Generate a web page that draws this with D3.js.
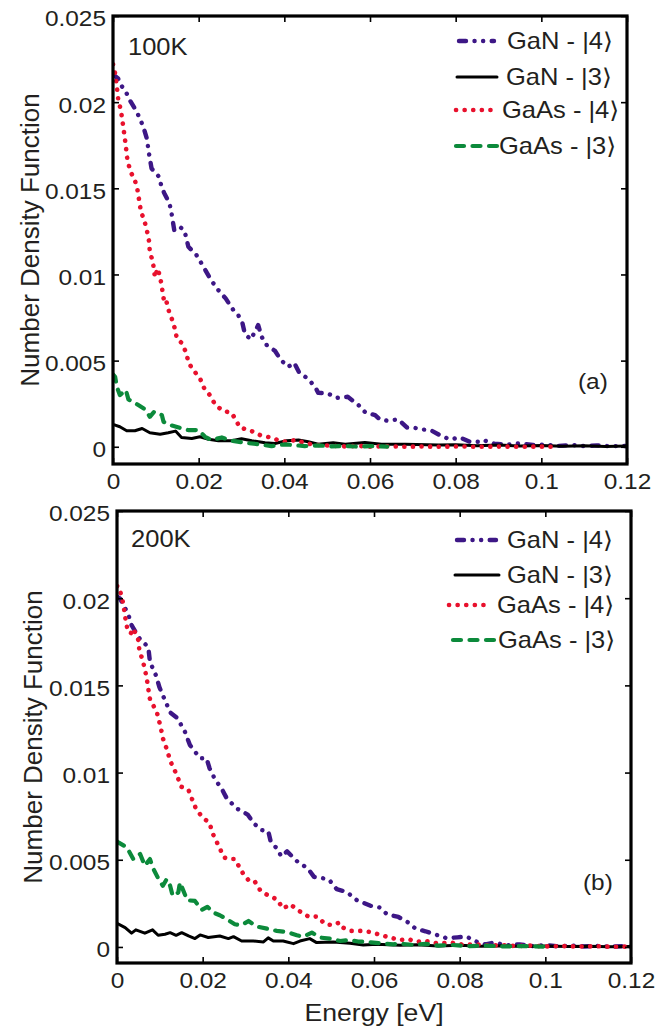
<!DOCTYPE html>
<html>
<head>
<meta charset="utf-8">
<script src="https://cdn.jsdelivr.net/npm/d3@7"></script>
<style>
  body { margin: 0; background: #fff; }
  text { font-family: "Liberation Sans", Arial, "DejaVu Sans", sans-serif; fill: #231f20; }
</style>
</head>
<body>
<svg id="fig" width="663" height="1026"></svg>
<script>
// ---- Number density vs. energy, [energy (eV), density] pairs ----

// 100 K
const gan4_100K = [[0,0.0216],[0.0012,0.02137],[0.0016,0.02108],[0.003,0.0206],[0.004,0.02008],[0.0053,0.01954],[0.0063,0.01905],[0.0072,0.01847],[0.0079,0.01789],[0.0084,0.01702],[0.009,0.01615],[0.0106,0.01571],[0.0115,0.01499],[0.012,0.0147],[0.0132,0.01412],[0.0137,0.0135],[0.0143,0.01257],[0.0156,0.01277],[0.0167,0.01253],[0.0176,0.01161],[0.0195,0.01112],[0.0209,0.01054],[0.0229,0.00967],[0.0246,0.00909],[0.0263,0.00861],[0.0281,0.00793],[0.0291,0.0077],[0.0302,0.0072],[0.0308,0.00654],[0.0322,0.00623],[0.0339,0.00706],[0.0347,0.00638],[0.0359,0.0059],[0.0378,0.00557],[0.0392,0.00503],[0.0409,0.00464],[0.0423,0.00487],[0.0435,0.00429],[0.0454,0.00397],[0.0472,0.00348],[0.0479,0.00313],[0.0501,0.0031],[0.0522,0.00284],[0.0548,0.0029],[0.0573,0.00242],[0.059,0.00197],[0.0612,0.00184],[0.0623,0.00159],[0.0641,0.00151],[0.0666,0.00159],[0.0686,0.00112],[0.0699,0.00112],[0.0722,0.00101],[0.0744,0.00093],[0.0767,0.00062],[0.0787,0.00043],[0.081,0.00054],[0.0833,0.00029],[0.0857,0.00029],[0.0864,0.00039],[0.089,0.00018],[0.092,0.00012],[0.095,0.0002],[0.098,0.0001],[0.101,0.00012],[0.104,0.00005],[0.107,0.0001],[0.11,0.00004],[0.113,0.00008],[0.116,0.00003],[0.119,0.00005],[0.12,0.00003]];
const gan3_100K = [[0,0.00128],[0.0005,0.00126],[0.0016,0.00116],[0.0032,0.00093],[0.0051,0.00093],[0.0068,0.00106],[0.0086,0.00081],[0.011,0.00073],[0.0129,0.00081],[0.0146,0.00091],[0.016,0.00054],[0.0184,0.00048],[0.0203,0.00058],[0.0223,0.00043],[0.0246,0.00035],[0.0277,0.00035],[0.03,0.00046],[0.0324,0.00035],[0.0355,0.00023],[0.0378,0.00019],[0.0405,0.00035],[0.0433,0.00039],[0.0456,0.00029],[0.0479,0.00015],[0.0514,0.00023],[0.0542,0.00015],[0.0588,0.00025],[0.0627,0.00015],[0.0682,0.00015],[0.076,0.0001],[0.08,0.00012],[0.085,0.00006],[0.09,0.0001],[0.095,0.00004],[0.1,0.00008],[0.105,0.00003],[0.11,0.00006],[0.115,0.00002],[0.12,0.00004]];
const gaas4_100K = [[0,0.0222],[0.0003,0.02195],[0.0006,0.02147],[0.0009,0.02089],[0.0012,0.02021],[0.0019,0.01944],[0.0024,0.01857],[0.0028,0.01783],[0.0031,0.01721],[0.0034,0.01658],[0.0042,0.0159],[0.005,0.01557],[0.0057,0.01493],[0.0065,0.01369],[0.0075,0.01296],[0.0079,0.01257],[0.0084,0.01195],[0.0086,0.01131],[0.0093,0.01074],[0.0098,0.00983],[0.0104,0.01035],[0.011,0.00986],[0.0114,0.00928],[0.012,0.00832],[0.0125,0.00841],[0.0131,0.00783],[0.0137,0.00745],[0.0145,0.00681],[0.0149,0.00629],[0.016,0.00603],[0.017,0.00551],[0.0177,0.00484],[0.0188,0.00445],[0.0204,0.00391],[0.0213,0.00339],[0.0226,0.003],[0.0232,0.00271],[0.0242,0.00236],[0.0258,0.00207],[0.0277,0.00197],[0.0289,0.00145],[0.0296,0.00112],[0.0322,0.00093],[0.0343,0.00068],[0.0367,0.00054],[0.039,0.00035],[0.0405,0.00029],[0.0425,0.00039],[0.0452,0.00019],[0.0479,0.0001],[0.051,0.00006],[0.054,0.00002],[0.057,0.00005],[0.06,0.00001],[0.064,0.00003],[0.068,0],[0.072,0.00002],[0.076,0],[0.08,0.00002],[0.085,0],[0.09,0.00001],[0.095,0],[0.1,0.00001],[0.103,0]];
const gaas3_100K = [[0,0.0042],[0.0005,0.00406],[0.0009,0.00348],[0.0016,0.003],[0.003,0.00329],[0.0036,0.00275],[0.0047,0.00261],[0.0059,0.00242],[0.0075,0.00217],[0.0086,0.00174],[0.0096,0.00203],[0.0114,0.00184],[0.0118,0.00145],[0.0133,0.00126],[0.0156,0.0011],[0.0176,0.00097],[0.0199,0.00097],[0.0215,0.00058],[0.023,0.00039],[0.0254,0.00054],[0.0277,0.00035],[0.0308,0.00023],[0.0339,0.00015],[0.037,0.00004],[0.0402,0.00014],[0.0448,0.00004],[0.048,0.00008],[0.051,0.00002],[0.054,0.00005],[0.057,0.00001],[0.06,0.00004],[0.064,0.00001]];

// 200 K
const gan4_200K = [[0,0.0201],[0.0007,0.01998],[0.0026,0.0191],[0.0034,0.01845],[0.0054,0.01764],[0.0073,0.0172],[0.0077,0.01634],[0.0091,0.01557],[0.0099,0.0149],[0.0112,0.01414],[0.0125,0.01343],[0.0141,0.01312],[0.0159,0.01232],[0.017,0.01159],[0.0194,0.01082],[0.0209,0.01082],[0.0216,0.01025],[0.0229,0.0096],[0.0244,0.0091],[0.0256,0.00853],[0.0279,0.00795],[0.0305,0.00759],[0.032,0.00707],[0.0338,0.0067],[0.0353,0.00665],[0.0359,0.00603],[0.0371,0.00571],[0.0384,0.00519],[0.0397,0.00548],[0.0423,0.00485],[0.0445,0.00452],[0.046,0.00402],[0.0483,0.00393],[0.0496,0.00383],[0.0513,0.00331],[0.0536,0.00316],[0.056,0.00268],[0.0592,0.00236],[0.0614,0.00226],[0.063,0.00188],[0.0657,0.00172],[0.068,0.0014],[0.0697,0.00105],[0.072,0.0009],[0.0745,0.0007],[0.077,0.0005],[0.0795,0.00055],[0.0815,0.0006],[0.084,0.0003],[0.086,0.00015],[0.088,0.00025],[0.091,0.0001],[0.094,0.00015],[0.097,0.00005],[0.1,0.0001],[0.103,0.00004],[0.106,0.00008],[0.109,0.00003],[0.112,0.00006],[0.115,0.00002],[0.118,0.00004],[0.12,0.00002]];
const gan3_200K = [[0,0.00136],[0.0019,0.00111],[0.0034,0.00079],[0.0044,0.00098],[0.0065,0.00079],[0.0083,0.00098],[0.0096,0.00067],[0.0112,0.00073],[0.0124,0.00082],[0.0138,0.00067],[0.0151,0.00082],[0.0167,0.00063],[0.0182,0.00048],[0.0194,0.00069],[0.0213,0.00054],[0.024,0.00063],[0.026,0.00048],[0.0272,0.00059],[0.0291,0.00034],[0.0318,0.00034],[0.0342,0.00029],[0.0353,0.00052],[0.0365,0.00034],[0.0388,0.00034],[0.0412,0.00019],[0.0427,0.00034],[0.045,0.00048],[0.0466,0.00025],[0.0505,0.00029],[0.0544,0.00021],[0.0575,0.00011],[0.0606,0.00015],[0.0661,0.0001],[0.07,0.00012],[0.075,0.00006],[0.08,0.0001],[0.085,0.00004],[0.09,0.00007],[0.095,0.00003],[0.1,0.00005],[0.105,0.00002],[0.11,0.00004],[0.115,0.00001],[0.12,0.00003]];
const gaas4_200K = [[0,0.0207],[0.0005,0.02065],[0.0015,0.01964],[0.0019,0.01893],[0.0024,0.01826],[0.0032,0.01797],[0.0038,0.01826],[0.005,0.01759],[0.0052,0.01705],[0.0061,0.01634],[0.0069,0.01548],[0.0073,0.01481],[0.0077,0.0142],[0.0093,0.01347],[0.0102,0.0126],[0.0107,0.01197],[0.0116,0.01136],[0.0125,0.01063],[0.0141,0.00979],[0.0149,0.0092],[0.0167,0.009],[0.0178,0.0083],[0.0184,0.00795],[0.0198,0.00747],[0.0216,0.00711],[0.0223,0.00653],[0.024,0.00565],[0.025,0.00513],[0.0262,0.00504],[0.0275,0.00504],[0.0295,0.00418],[0.031,0.00374],[0.0322,0.00374],[0.0335,0.00322],[0.0357,0.00289],[0.0373,0.00274],[0.0388,0.0022],[0.0404,0.00245],[0.0425,0.00207],[0.0447,0.00174],[0.0468,0.00174],[0.0486,0.0013],[0.0505,0.00125],[0.0519,0.0014],[0.0527,0.00111],[0.0546,0.00092],[0.0569,0.00092],[0.0591,0.00086],[0.0618,0.00067],[0.0637,0.00054],[0.0661,0.0004],[0.068,0.00045],[0.07,0.0003],[0.072,0.00035],[0.075,0.0002],[0.078,0.00025],[0.081,0.00012],[0.084,0.00015],[0.087,0.00008],[0.09,0.0001],[0.093,0.00005],[0.096,0.00008],[0.1,0.00003],[0.104,0.00005],[0.108,0.00002],[0.112,0.00004],[0.116,0.00001],[0.12,0.00002]];
const gaas3_200K = [[0,0.00605],[0.0003,0.006],[0.0023,0.00571],[0.0038,0.00504],[0.0054,0.00533],[0.0065,0.00466],[0.0077,0.00504],[0.0085,0.00447],[0.0099,0.0038],[0.0107,0.00351],[0.0116,0.00389],[0.0124,0.00351],[0.013,0.00293],[0.0143,0.00312],[0.0147,0.0037],[0.0164,0.00268],[0.0182,0.00264],[0.0198,0.00213],[0.0211,0.0023],[0.0225,0.00197],[0.024,0.00182],[0.0256,0.00159],[0.0275,0.0013],[0.0291,0.00125],[0.0307,0.00149],[0.0326,0.00117],[0.035,0.00105],[0.0373,0.00092],[0.0396,0.00086],[0.042,0.00067],[0.0435,0.00059],[0.0455,0.00082],[0.0474,0.00054],[0.0497,0.00048],[0.0521,0.00034],[0.054,0.0004],[0.0563,0.00031],[0.0583,0.00029],[0.0614,0.00021],[0.0645,0.00015],[0.0661,0.00019],[0.069,0.00012],[0.072,0.00018],[0.075,0.00008],[0.078,0.00012],[0.082,0.00005],[0.086,0.00008],[0.09,0.00003],[0.095,0.00005],[0.1,0.00002]];

// axis ticks
const energyTicks = [0, 0.02, 0.04, 0.06, 0.08, 0.1, 0.12];
const energyTickLabels = ["0", "0.02", "0.04", "0.06", "0.08", "0.1", "0.12"];
const densityTicks = [0, 0.005, 0.01, 0.015, 0.02, 0.025];
const densityTickLabels = ["0", "0.005", "0.01", "0.015", "0.02", "0.025"];

// legend entries (drawing order)
const seriesNames = ["GaN - |4\u27E9", "GaN - |3\u27E9", "GaAs - |4\u27E9", "GaAs - |3\u27E9"];
const temperatures = ["100K", "200K"];
const panelTags = ["(a)", "(b)"];

// ---- styling ----
const styles = [
  { color: "#3d1786", dash: "7,8.5,0.1,8.5,0.1,8.5", width: 4.4 },
  { color: "#000000", dash: null, width: 3.0 },
  { color: "#e8112d", dash: "0.1,8.5", width: 4.6 },
  { color: "#0c8a3b", dash: "8,8.5", width: 4.2 }
];
const SX = 1.11; // glyph width stretch of the printed figure

const svg = d3.select("#fig");

function stretch(sel) {
  sel.each(function () {
    const t = d3.select(this);
    const x = +t.attr("x") || 0;
    t.attr("transform", `translate(${x},0) scale(${SX},1) translate(${-x},0)`);
  });
}

const panels = [
  { data: [gan4_100K, gan3_100K, gaas4_100K, gaas3_100K],
    left: 113, right: 627, top: 16, bottom: 464, yMin: -0.001,
    legend: { rows: [41, 77, 110, 146], lines: [[459, 494], [457, 497], [456, 499], [456, 499]], text: [507, 506, 502, 499] },
    tempPos: [128, 55], tagPos: [578, 389], yLabelX: 30 },
  { data: [gan4_200K, gan3_200K, gaas4_200K, gaas3_200K],
    left: 117, right: 631, top: 511, bottom: 963, yMin: -0.00092,
    legend: { rows: [540, 575, 605, 640], lines: [[457, 496], [455, 499], [449, 492], [453, 494]], text: [507, 507, 497, 498] },
    tempPos: [131, 547], tagPos: [583, 890], yLabelX: 33 }
];

panels.forEach((p, pi) => {
  const x = d3.scaleLinear().domain([0, 0.12]).range([p.left, p.right]);
  const y = d3.scaleLinear().domain([p.yMin, 0.025]).range([p.bottom, p.top]);
  const g = svg.append("g");

  const clipId = "clip" + pi;
  g.append("clipPath").attr("id", clipId)
    .append("rect").attr("x", p.left).attr("y", p.top)
    .attr("width", p.right - p.left).attr("height", p.bottom - p.top);

  // curves
  const line = d3.line().x(d => x(d[0])).y(d => y(d[1]));
  const curves = g.append("g").attr("clip-path", `url(#${clipId})`);
  p.data.forEach((series, si) => {
    const s = styles[si];
    curves.append("path").datum(series)
      .attr("d", line)
      .attr("fill", "none")
      .attr("stroke", s.color)
      .attr("stroke-width", s.width)
      .attr("stroke-linecap", "round")
      .attr("stroke-linejoin", "round")
      .attr("stroke-dasharray", s.dash);
  });

  // axes: ticks point inward on all four sides
  const axisStyle = a => {
    a.select(".domain").remove();
    a.selectAll(".tick line").attr("stroke", "#000").attr("stroke-width", 1.6);
    a.selectAll("text").style("font-size", "22px").attr("fill", "#231f20");
  };
  const xb = g.append("g").attr("transform", `translate(0,${p.bottom})`)
    .call(d3.axisBottom(x).tickValues(energyTicks)
      .tickFormat((d, i) => energyTickLabels[i]).tickSize(-6).tickPadding(9));
  axisStyle(xb);
  stretch(xb.selectAll("text"));
  const xt = g.append("g").attr("transform", `translate(0,${p.top})`)
    .call(d3.axisTop(x).tickValues(energyTicks).tickFormat("").tickSize(-6));
  axisStyle(xt);
  const yl = g.append("g").attr("transform", `translate(${p.left},0)`)
    .call(d3.axisLeft(y).tickValues(densityTicks)
      .tickFormat((d, i) => densityTickLabels[i]).tickSize(-6).tickPadding(7));
  axisStyle(yl);
  yl.selectAll("text").attr("dy", "0.45em");
  stretch(yl.selectAll("text"));
  const yr = g.append("g").attr("transform", `translate(${p.right},0)`)
    .call(d3.axisRight(y).tickValues(densityTicks).tickFormat("").tickSize(-6));
  axisStyle(yr);

  // frame
  g.append("rect")
    .attr("x", p.left).attr("y", p.top)
    .attr("width", p.right - p.left).attr("height", p.bottom - p.top)
    .attr("fill", "none").attr("stroke", "#000").attr("stroke-width", 3.2);

  // legend
  seriesNames.forEach((name, si) => {
    const s = styles[si];
    const yy = p.legend.rows[si];
    g.append("line")
      .attr("x1", p.legend.lines[si][0]).attr("x2", p.legend.lines[si][1])
      .attr("y1", yy).attr("y2", yy)
      .attr("stroke", s.color).attr("stroke-width", s.width)
      .attr("stroke-linecap", "round")
      .attr("stroke-dasharray", s.dash);
    const t = g.append("text")
      .attr("x", p.legend.text[si]).attr("y", yy)
      .attr("dy", "0.36em")
      .style("font-size", "23px")
      .text(name);
    stretch(t);
  });

  // temperature and panel tag
  stretch(g.append("text").attr("x", p.tempPos[0]).attr("y", p.tempPos[1])
    .style("font-size", "23px").text(temperatures[pi]));
  stretch(g.append("text").attr("x", p.tagPos[0]).attr("y", p.tagPos[1])
    .style("font-size", "22px").text(panelTags[pi]));

  // y-axis title
  g.append("text")
    .attr("transform", `translate(${p.yLabelX},${(p.top + p.bottom) / 2}) rotate(-90)`)
    .attr("text-anchor", "middle")
    .attr("dy", "0.35em")
    .style("font-size", "26px")
    .text("Number Density Function");
});

// x-axis title (bottom panel only)
stretch(svg.append("text")
  .attr("x", (117 + 631) / 2).attr("y", 1021)
  .attr("text-anchor", "middle")
  .style("font-size", "24px")
  .text("Energy [eV]"));
</script>
</body>
</html>
